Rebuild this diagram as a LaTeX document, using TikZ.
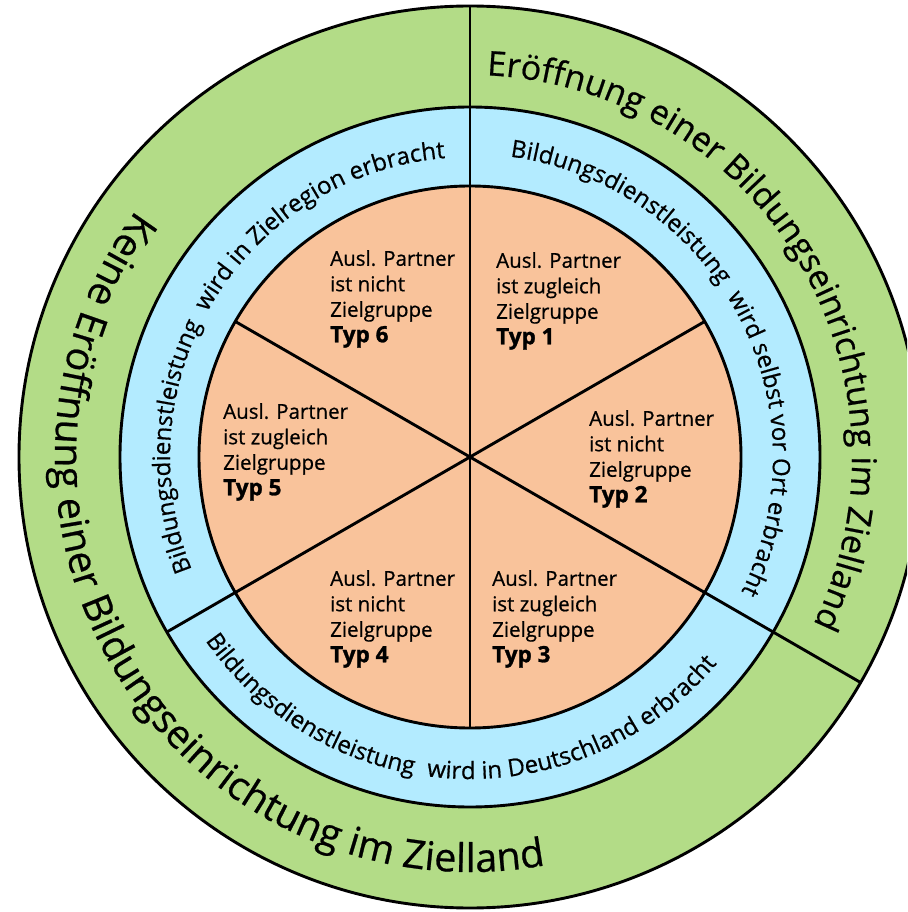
\documentclass[tikz,border=0pt]{standalone}
\usepackage{fontspec}
\setmainfont{Open Sans}[UprightFeatures={FakeBold=0.6},BoldFeatures={FakeBold=1.2}]
\usetikzlibrary{decorations.text}
\definecolor{RGGreen}{HTML}{B3DC87}
\definecolor{RGBlue}{HTML}{B3EBFF}
\definecolor{RGOrange}{HTML}{F9C39B}
\newcommand\rgBigFont{\fontsize{34pt}{40pt}\selectfont}
\newcommand\rgHugeFont{\fontsize{39.5pt}{44pt}\selectfont}
\newcommand\rgMidFont{\fontsize{24pt}{28pt}\selectfont}
\newcommand\rgTypFont{\fontsize{22.5pt}{25.5pt}\selectfont\bfseries}
\newcommand\rgGap{{\hspace*{7pt}}}
\tikzset{
  rgLine/.style={
    line width=2.9pt,
    draw=black
  },
  rgType/.style={
    anchor=north west,
    align=left,
    inner sep=0pt,
    text=black,
    font=\fontsize{20.5pt}{25.5pt}\selectfont
  },
  rgArcText/.style={
    decorate,
    decoration={text along path, text align=center, text={#1}}
  }
}

\begin{document}
\begin{tikzpicture}[x=1pt, y=1pt]
  \useasboundingbox (-470,-455) rectangle (437,457);
  \clip (-470,-455) rectangle (437,457);

  % rings
  \draw [rgLine, fill=RGGreen] (0,0) circle[radius=451];
  \draw [rgLine, fill=RGBlue] (0,0) circle[radius=350];
  \draw [rgLine, fill=RGOrange] (0,0) circle[radius=271];

  % dividers
  \draw [rgLine] (0,0) -- (90:451);
  \draw [rgLine] (0,0) -- (-30:451);
  \draw [rgLine] (0,0) -- (210:350);
  \draw [rgLine] (0,0) -- (30:271);
  \draw [rgLine] (0,0) -- (150:271);
  \draw [rgLine] (0,0) -- (-90:271);

  % outer ring
  \path [rgArcText={|\rgBigFont|Eröffnung einer Bildungseinrichtung im Zielland}]
    (110.75:382) arc[start angle=110.75, end angle=-49.25, radius=382];
  \path [rgArcText={|\rgHugeFont|Keine Eröffnung einer Bildungseinrichtung im Zielland}]
    (126:415) arc[start angle=126, end angle=298, radius=415];

  % middle ring
  \path [rgArcText={|\rgMidFont|Bildungsdienstleistung \rgGap wird selbst vor Ort erbracht}]
    (98:303) arc[start angle=98, end angle=-42, radius=303];
  \path [rgArcText={|\rgMidFont|Bildungsdienstleistung \rgGap wird in Zielregion erbracht}]
    (223.4:300) arc[start angle=223.4, end angle=73.4, radius=300];
  \path [rgArcText={|\rgMidFont|Bildungsdienstleistung \rgGap wird in Deutschland erbracht}]
    (192.4:322) arc[start angle=192.4, end angle=342.4, radius=322];

  % sectors
  \node (typ1) [rgType] at (26,205) {Ausl. Partner\\ist zugleich\\Zielgruppe\\{\rgTypFont Typ 1}};
  \node (typ2) [rgType] at (119,47) {Ausl. Partner\\ist nicht\\Zielgruppe\\{\rgTypFont Typ 2}};
  \node (typ3) [rgType] at (22,-113) {Ausl. Partner\\ist zugleich\\Zielgruppe\\{\rgTypFont Typ 3}};
  \node (typ4) [rgType] at (-140,-113) {Ausl. Partner\\ist nicht\\Zielgruppe\\{\rgTypFont Typ 4}};
  \node (typ5) [rgType] at (-247,54) {Ausl. Partner\\ist zugleich\\Zielgruppe\\{\rgTypFont Typ 5}};
  \node (typ6) [rgType] at (-140,207) {Ausl. Partner\\ist nicht\\Zielgruppe\\{\rgTypFont Typ 6}};
\end{tikzpicture}
\end{document}
